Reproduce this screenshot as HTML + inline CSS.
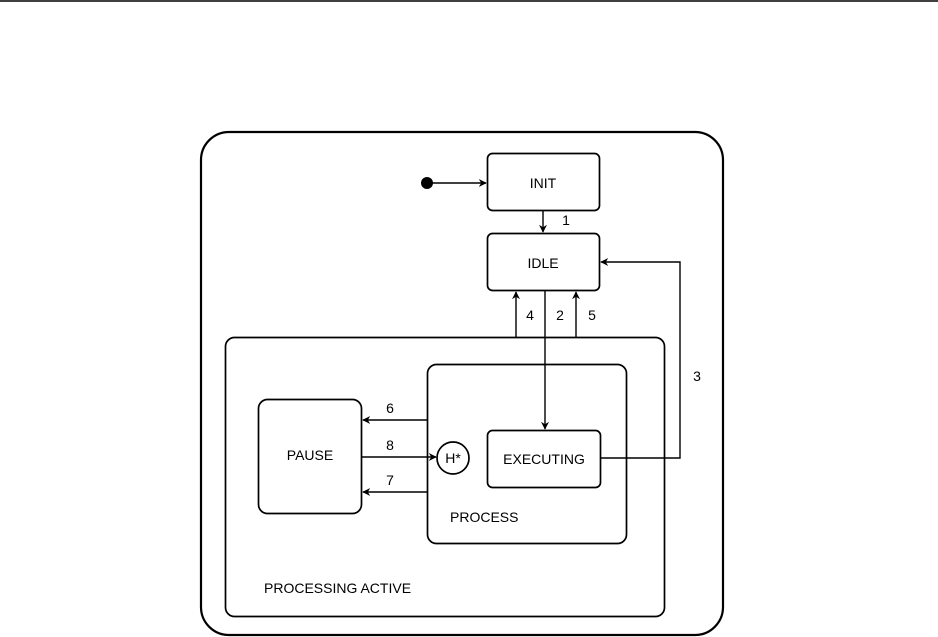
<!DOCTYPE html>
<html><head><style>html,body{margin:0;padding:0;background:#fff}svg{display:block}text{font-family:"Liberation Sans",sans-serif;font-size:14px;fill:#000}</style></head><body>
<svg width="938" height="637" viewBox="0 0 938 637" xmlns="http://www.w3.org/2000/svg">
<defs><marker id="a" viewBox="0 0 10 10" refX="9" refY="5" markerWidth="8" markerHeight="8" orient="auto" markerUnits="userSpaceOnUse"><path d="M0,0 L10,5 L0,10 L3,5 z" fill="#000"/></marker></defs>
<line x1="0" y1="1" x2="938" y2="1" stroke="#000" stroke-width="1.5"/>
<g fill="none" stroke="#000">
<rect x="201" y="132" width="522" height="503" rx="28" stroke-width="2.2"/>
<rect x="225.5" y="337.5" width="439" height="279" rx="9" stroke-width="1.7"/>
<rect x="427.5" y="364.5" width="199" height="179" rx="9" stroke-width="1.7"/>
<rect x="487.5" y="153.5" width="112" height="57" rx="5" stroke-width="1.7"/>
<rect x="487.5" y="233.5" width="112" height="57" rx="5" stroke-width="1.7"/>
<rect x="258.5" y="399.5" width="103" height="114" rx="9" stroke-width="1.7"/>
<rect x="487.5" y="430.5" width="113" height="57" rx="5" stroke-width="1.7"/>
<circle cx="453" cy="458" r="16" stroke-width="1.7"/>
<g stroke-width="1.4" marker-end="url(#a)">
<line x1="430" y1="183" x2="486" y2="183"/>
<line x1="543" y1="211" x2="543" y2="232"/>
<line x1="516" y1="337" x2="516" y2="292"/>
<line x1="576" y1="337" x2="576" y2="292"/>
<line x1="545" y1="291" x2="545" y2="429"/>
<line x1="427" y1="420" x2="363" y2="420"/>
<line x1="427" y1="492" x2="363" y2="492"/>
<line x1="362" y1="457" x2="436" y2="457"/>
<polyline points="601,458 680,458 680,262 601,262"/>
</g></g>
<circle cx="427" cy="183" r="6" fill="#000"/>
<text x="543" y="188" text-anchor="middle">INIT</text>
<text x="543" y="268" text-anchor="middle">IDLE</text>
<text x="310" y="460" text-anchor="middle">PAUSE</text>
<text x="544" y="464" text-anchor="middle">EXECUTING</text>
<text x="453" y="463" text-anchor="middle">H*</text>
<text x="450" y="522">PROCESS</text>
<text x="264" y="593">PROCESSING ACTIVE</text>
<text x="566" y="225" text-anchor="middle">1</text>
<text x="530" y="320" text-anchor="middle">4</text>
<text x="560" y="320" text-anchor="middle">2</text>
<text x="592" y="320" text-anchor="middle">5</text>
<text x="697" y="381" text-anchor="middle">3</text>
<text x="390" y="413" text-anchor="middle">6</text>
<text x="390" y="450" text-anchor="middle">8</text>
<text x="390" y="485" text-anchor="middle">7</text>
</svg></body></html>
